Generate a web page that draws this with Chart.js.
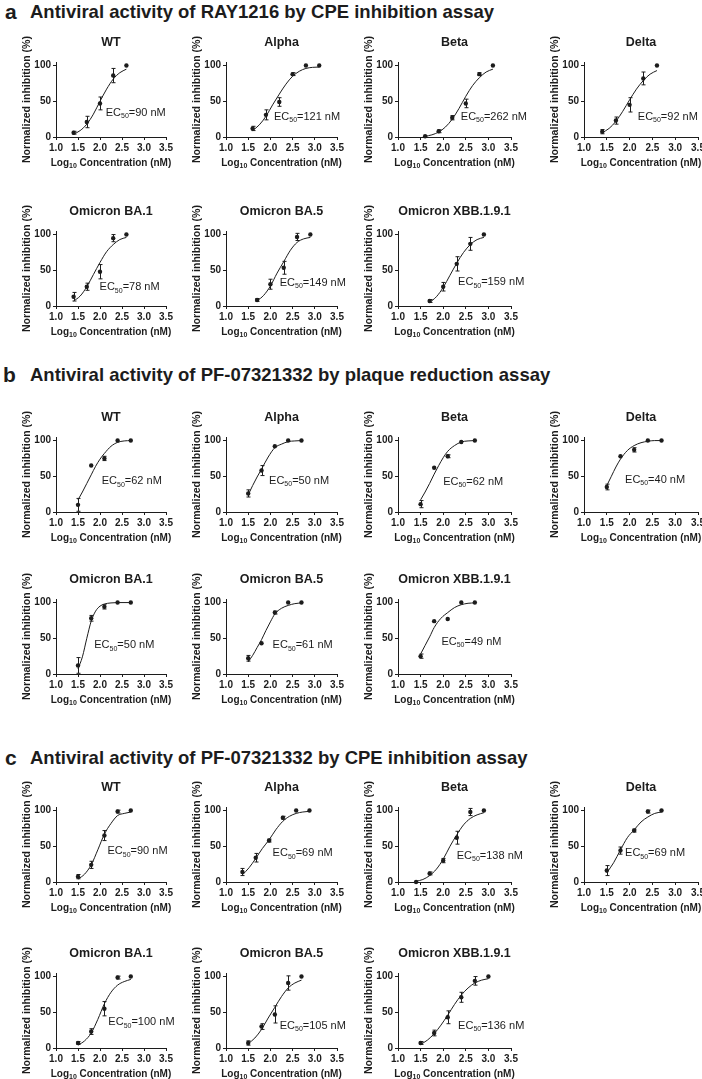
<!DOCTYPE html>
<html>
<head>
<meta charset="utf-8">
<script src="https://cdn.jsdelivr.net/npm/chart.js@4.4.1/dist/chart.umd.min.js"></script>
<style>
  html, body { margin: 0; padding: 0; background: #fff; overflow: hidden; }
  #page { position: relative; width: 702px; height: 1079px; font-family: "Liberation Sans", Arial, sans-serif; color: #1c1c1c; }
  .sec { position: absolute; font-weight: bold; white-space: nowrap; line-height: 22px; height: 22px; }
  .sec .tag { position: absolute; left: 0; font-size: 21px; }
  .sec .txt { position: absolute; left: 25px; font-size: 18.5px; }
  canvas { position: absolute; }
</style>
</head>
<body>
<div id="page">
  <div class="sec" style="left:5px;top:1px"><span class="tag">a</span><span class="txt">Antiviral activity of RAY1216 by CPE inhibition assay</span></div>
  <div class="sec" style="left:3px;top:364px"><span class="tag">b</span><span class="txt" style="left:27px">Antiviral activity of PF-07321332 by plaque reduction assay</span></div>
  <div class="sec" style="left:5px;top:747px"><span class="tag">c</span><span class="txt">Antiviral activity of PF-07321332 by CPE inhibition assay</span></div>
</div>
<script>
const variants = ['WT', 'Alpha', 'Beta', 'Delta', 'Omicron BA.1', 'Omicron BA.5', 'Omicron XBB.1.9.1'];

// a - RAY1216, CPE inhibition (log10 nM, % inhibition, +/- error)
const rayConc = [
  [1.4, 1.7, 2.0, 2.3, 2.6], [1.6, 1.9, 2.2, 2.5, 2.8, 3.1], [1.6, 1.9, 2.2, 2.5, 2.8, 3.1], [1.4, 1.7, 2.0, 2.3, 2.6],
  [1.4, 1.7, 2.0, 2.3, 2.6], [1.7, 2.0, 2.3, 2.6, 2.9], [1.7, 2.0, 2.3, 2.6, 2.9]
];
const rayInh = [
  [6, 21, 47, 86, 100], [12, 31, 49, 88, 100, 100], [1, 8, 27, 47, 88, 100], [7.5, 23, 45, 82, 100],
  [13, 27, 48, 95, 100], [8.5, 30.5, 53.5, 96.7, 100], [7, 27, 59, 87, 100]
];
const rayErr = [
  [2, 8, 9, 10, 0], [3, 7, 6, 2, 0, 0], [0, 2, 3, 6, 2, 0], [3, 5, 10, 9, 0],
  [6, 5, 10, 5, 0], [2, 7, 9, 5, 0], [2, 6, 10, 9, 0]
];
const rayFitX = [
  [1.4, 1.55, 1.7, 1.85, 2.0, 2.15, 2.3, 2.45, 2.6],
  [1.6, 1.75, 1.9, 2.05, 2.2, 2.35, 2.5, 2.65, 2.8, 2.95, 3.1],
  [1.6, 1.75, 1.9, 2.05, 2.2, 2.35, 2.5, 2.65, 2.8, 2.95, 3.1],
  [1.4, 1.55, 1.7, 1.85, 2.0, 2.15, 2.3, 2.45, 2.6],
  [1.4, 1.55, 1.7, 1.85, 2.0, 2.15, 2.3, 2.45, 2.6],
  [1.7, 1.85, 2.0, 2.15, 2.3, 2.45, 2.6, 2.75, 2.9],
  [1.7, 1.85, 2.0, 2.15, 2.3, 2.45, 2.6, 2.75, 2.9]
];
const rayFitY = [
  [4, 9, 18, 32, 50, 67, 81, 90, 95],
  [9, 17, 29, 45, 60, 74, 85, 92, 96, 97.5, 98],
  [1, 3, 7, 14, 25, 40, 57, 72, 83, 91, 95],
  [6, 12, 22, 36, 52, 67, 79, 88, 93],
  [7, 14, 27, 44, 61, 76, 86, 93, 96],
  [7, 15, 28, 46, 62, 78, 89, 94, 96],
  [5, 13, 26, 43, 60, 75, 86, 93, 96]
];
const rayEC50 = [90, 121, 262, 92, 78, 149, 159];

// b - PF-07321332, plaque reduction
const plqConc = [
  [1.5, 1.8, 2.1, 2.4, 2.7], [1.5, 1.8, 2.1, 2.4, 2.7], [1.5, 1.8, 2.1, 2.4, 2.7], [1.5, 1.8, 2.1, 2.4, 2.7],
  [1.5, 1.8, 2.1, 2.4, 2.7], [1.5, 1.8, 2.1, 2.4, 2.7], [1.5, 1.8, 2.1, 2.4, 2.7]
];
const plqInh = [
  [10, 65, 75, 100, 100], [26, 58, 92, 100, 100], [11, 62, 78, 98, 100], [35, 78, 87, 100, 100],
  [12, 78, 94, 100, 100], [22, 43, 86, 100, 100], [25, 74, 77, 100, 100]
];
const plqErr = [
  [9, 0, 3, 0, 0], [5, 7, 0, 0, 0], [5, 0, 2, 0, 0], [4, 0, 3, 0, 0],
  [11, 4, 3, 0, 0], [4, 0, 2, 0, 0], [3, 0, 0, 0, 0]
];
const plqFitX = [
  [1.5, 1.6, 1.7, 1.8, 1.9, 2.0, 2.1, 2.25, 2.4, 2.55, 2.7],
  [1.5, 1.6, 1.7, 1.8, 1.95, 2.1, 2.25, 2.4, 2.55, 2.7],
  [1.5, 1.6, 1.7, 1.8, 1.9, 2.0, 2.1, 2.25, 2.4, 2.55, 2.7],
  [1.5, 1.6, 1.7, 1.8, 1.95, 2.1, 2.25, 2.4, 2.55, 2.7],
  [1.5, 1.6, 1.7, 1.8, 1.9, 2.0, 2.1, 2.25, 2.4, 2.7],
  [1.5, 1.6, 1.7, 1.8, 1.9, 2.0, 2.1, 2.25, 2.4, 2.55, 2.7],
  [1.5, 1.6, 1.7, 1.8, 1.95, 2.1, 2.25, 2.4, 2.55, 2.7]
];
const plqFitY = [
  [17, 28, 40, 52, 64, 74, 82, 92, 97.5, 99.5, 100],
  [24, 37, 49, 60, 77, 90, 95, 98.5, 99.5, 100],
  [17, 28, 40, 53, 65, 76, 85, 93, 98, 99.5, 100],
  [37, 50, 63, 74, 86, 93, 97, 99, 100, 100],
  [7, 24, 50, 74, 88, 95, 98, 99.5, 100, 100],
  [17, 26, 37, 48, 61, 73, 84, 92, 96, 98.5, 99.5],
  [28, 40, 52, 65, 78, 86, 93, 97, 99, 99.5]
];
const plqEC50 = [62, 50, 62, 40, 50, 61, 49];

// c - PF-07321332, CPE inhibition
const cpeConc = [
  [1.5, 1.8, 2.1, 2.4, 2.7], [1.37, 1.67, 1.97, 2.28, 2.58, 2.88], [1.4, 1.7, 2.0, 2.3, 2.6, 2.9], [1.5, 1.8, 2.1, 2.4, 2.7],
  [1.5, 1.8, 2.1, 2.4, 2.7], [1.5, 1.8, 2.1, 2.4, 2.7], [1.5, 1.8, 2.1, 2.4, 2.7, 3.0]
];
const cpeInh = [
  [7.5, 24, 65, 98.6, 100], [14, 34, 58, 90, 100, 100], [0, 12, 30, 62, 98, 100], [16, 44, 72, 98.6, 100],
  [7, 23, 55, 98.6, 100], [7, 30, 47, 91, 100], [7, 21, 43, 71, 94, 100]
];
const cpeErr = [
  [3, 5, 7, 2, 0], [5, 6, 2, 2, 0, 0], [0, 2, 3, 9, 5, 0], [7, 5, 2, 2, 0],
  [2, 4, 10, 2, 0], [3, 4, 12, 10, 0], [2, 4, 9, 7, 6, 0]
];
const cpeFitX = [
  [1.5, 1.65, 1.8, 1.95, 2.1, 2.25, 2.4, 2.55, 2.7],
  [1.37, 1.52, 1.67, 1.82, 1.97, 2.12, 2.28, 2.43, 2.58, 2.73, 2.88],
  [1.4, 1.55, 1.7, 1.85, 2.0, 2.15, 2.3, 2.45, 2.6, 2.75, 2.9],
  [1.5, 1.65, 1.8, 1.95, 2.1, 2.25, 2.4, 2.55, 2.7],
  [1.5, 1.65, 1.8, 1.95, 2.1, 2.25, 2.4, 2.55, 2.7],
  [1.5, 1.65, 1.8, 1.95, 2.1, 2.25, 2.4, 2.55, 2.7],
  [1.5, 1.65, 1.8, 1.95, 2.1, 2.25, 2.4, 2.55, 2.7, 2.85, 3.0]
];
const cpeFitY = [
  [4, 11, 24, 45, 67, 82, 93, 96, 98],
  [10, 20, 33, 47, 59, 73, 85, 92, 96, 98, 99],
  [1, 3.5, 9, 18, 32, 50, 66, 80, 89, 94, 97],
  [13, 27, 45, 62, 73, 84, 91, 96, 98],
  [4, 10, 21, 40, 62, 78, 88, 93, 96],
  [6, 14, 26, 42, 57, 72, 84, 91, 95],
  [5, 11, 20, 32, 46, 61, 74, 84, 91, 95, 97]
];
const cpeEC50 = [90, 69, 138, 69, 100, 105, 136];

// layout (page pixels) and EC50 label anchors (in data units)
const colAxisX = [56, 226, 398, 584];
const colPlotW = [110, 111, 113, 114];
const rowZeroY = [137, 306, 512, 674, 882, 1048];
const ecPos = [
  [[2.13, 34], [2.08, 28], [2.39, 28], [2.18, 28], [1.99, 26], [2.21, 32], [2.33, 33]],
  [[2.04, 43], [1.97, 44], [2.0, 42], [1.9, 45], [1.87, 40], [2.05, 40], [1.96, 45]],
  [[2.17, 43], [2.05, 40], [2.3, 37], [1.9, 40], [2.19, 36], [2.21, 31], [2.33, 31]]
];

const FONT = '"Liberation Sans", Arial, sans-serif';
const INK = '#1c1c1c';
const Y_W = 35, PAD_T = 36, PAD_R = 22, PLOT_H = 75, X_H = 34;

const sections = [
  { conc: rayConc, inh: rayInh, err: rayErr, fitX: rayFitX, fitY: rayFitY, ec: rayEC50 },
  { conc: plqConc, inh: plqInh, err: plqErr, fitX: plqFitX, fitY: plqFitY, ec: plqEC50 },
  { conc: cpeConc, inh: cpeInh, err: cpeErr, fitX: cpeFitX, fitY: cpeFitY, ec: cpeEC50 }
];

// text with subscripts, parts = [[text, isSub], ...]
function drawRich(ctx, parts, x, y, size, weight, align) {
  const main = `${weight} ${size}px ${FONT}`;
  const sub = `${weight} ${Math.round(size * 0.68)}px ${FONT}`;
  let total = 0;
  parts.forEach(([t, s]) => { ctx.font = s ? sub : main; total += ctx.measureText(t).width; });
  let cx = align === 'center' ? x - total / 2 : x;
  ctx.textAlign = 'left';
  ctx.textBaseline = 'middle';
  parts.forEach(([t, s]) => {
    ctx.font = s ? sub : main;
    ctx.fillText(t, cx, s ? y + size * 0.3 : y);
    cx += ctx.measureText(t).width;
  });
}

const errorBars = {
  id: 'errorBars',
  afterDatasetsDraw(chart) {
    const ds = chart.data.datasets[1];
    const meta = chart.getDatasetMeta(1);
    const ys = chart.scales.y;
    const ctx = chart.ctx;
    ctx.save();
    ctx.strokeStyle = INK;
    ctx.lineWidth = 1;
    meta.data.forEach((pt, k) => {
      const e = ds.errors[k];
      if (!e) return;
      const v = ds.data[k].y;
      const top = ys.getPixelForValue(v + e), bot = ys.getPixelForValue(Math.max(v - e, 0));
      const x = Math.round(pt.x) + 0.5;
      ctx.beginPath();
      ctx.moveTo(x, top); ctx.lineTo(x, bot);
      ctx.moveTo(x - 2, top); ctx.lineTo(x + 2, top);
      ctx.moveTo(x - 2, bot); ctx.lineTo(x + 2, bot);
      ctx.stroke();
    });
    ctx.restore();
  }
};

const decor = {
  id: 'decor',
  afterDraw(chart, args, opts) {
    const { ctx, chartArea: a } = chart;
    ctx.save();
    ctx.fillStyle = INK;
    ctx.font = `bold 12.5px ${FONT}`;
    ctx.textAlign = 'center';
    ctx.textBaseline = 'middle';
    ctx.fillText(opts.title, (a.left + a.right) / 2, a.top - 19);
    drawRich(ctx, [['Log', false], ['10', true], [' Concentration (nM)', false]], (a.left + a.right) / 2, a.bottom + 26, 10, 'bold', 'center');
    const lx = chart.scales.x.getPixelForValue(opts.pos[0]);
    const ly = chart.scales.y.getPixelForValue(opts.pos[1]);
    drawRich(ctx, [['EC', false], ['50', true], [`=${opts.ec} nM`, false]], lx, ly, 11, 'normal', 'left');
    ctx.restore();
  }
};

function axisStyle() {
  return {
    grid: { drawOnChartArea: false, drawTicks: true, tickLength: 3, color: INK, lineWidth: 1 },
    border: { display: true, color: INK, width: 1 }
  };
}

function makePanel(s, k) {
  const sec = sections[s];
  const row = s * 2 + (k < 4 ? 0 : 1);
  const col = k < 4 ? k : k - 4;
  const plotW = colPlotW[col];
  const W = Y_W + plotW + PAD_R, H = PAD_T + PLOT_H + X_H;

  const canvas = document.createElement('canvas');
  canvas.width = W;
  canvas.height = H;
  canvas.style.width = W + 'px';
  canvas.style.height = H + 'px';
  canvas.style.left = (colAxisX[col] - Y_W) + 'px';
  canvas.style.top = (rowZeroY[row] - PLOT_H - PAD_T) + 'px';
  document.getElementById('page').appendChild(canvas);

  new Chart(canvas, {
    type: 'scatter',
    data: {
      datasets: [
        {
          type: 'line',
          data: sec.fitX[k].map((x, i) => ({ x, y: sec.fitY[k][i] })),
          borderColor: INK, borderWidth: 1, pointRadius: 0,
          cubicInterpolationMode: 'monotone', fill: false
        },
        {
          data: sec.conc[k].map((x, i) => ({ x, y: sec.inh[k][i] })),
          errors: sec.err[k],
          pointRadius: 2.2, backgroundColor: INK, borderWidth: 0, clip: false
        }
      ]
    },
    options: {
      responsive: false,
      animation: false,
      devicePixelRatio: 1,
      layout: { padding: { top: PAD_T, right: PAD_R, left: 0, bottom: 0 } },
      plugins: {
        legend: { display: false },
        tooltip: { enabled: false },
        decor: { title: variants[k], ec: sec.ec[k], pos: ecPos[s][k] }
      },
      scales: {
        x: {
          type: 'linear', min: 1, max: 3.5,
          afterFit(sc) { sc.height = X_H; sc.paddingLeft = 0; sc.paddingRight = 0; },
          ticks: {
            stepSize: 0.5, autoSkip: false, maxRotation: 0, padding: 2, color: INK,
            font: { family: FONT, size: 10, weight: 'bold' },
            callback: v => Number(v).toFixed(1)
          },
          ...axisStyle()
        },
        y: {
          min: 0, max: 105,
          afterBuildTicks(sc) { sc.ticks = [0, 50, 100].map(v => ({ value: v })); },
          afterFit(sc) { sc.width = Y_W; },
          ticks: { padding: 2, color: INK, font: { family: FONT, size: 10, weight: 'bold' } },
          title: {
            display: true, text: 'Normalized inhibition (%)', color: INK, padding: 0,
            font: { family: FONT, size: 10.6, weight: 'bold', lineHeight: 1.2 }
          },
          ...axisStyle()
        }
      }
    },
    plugins: [errorBars, decor]
  });
}

for (let s = 0; s < 3; s++) {
  for (let k = 0; k < variants.length; k++) makePanel(s, k);
}
</script>
</body>
</html>
